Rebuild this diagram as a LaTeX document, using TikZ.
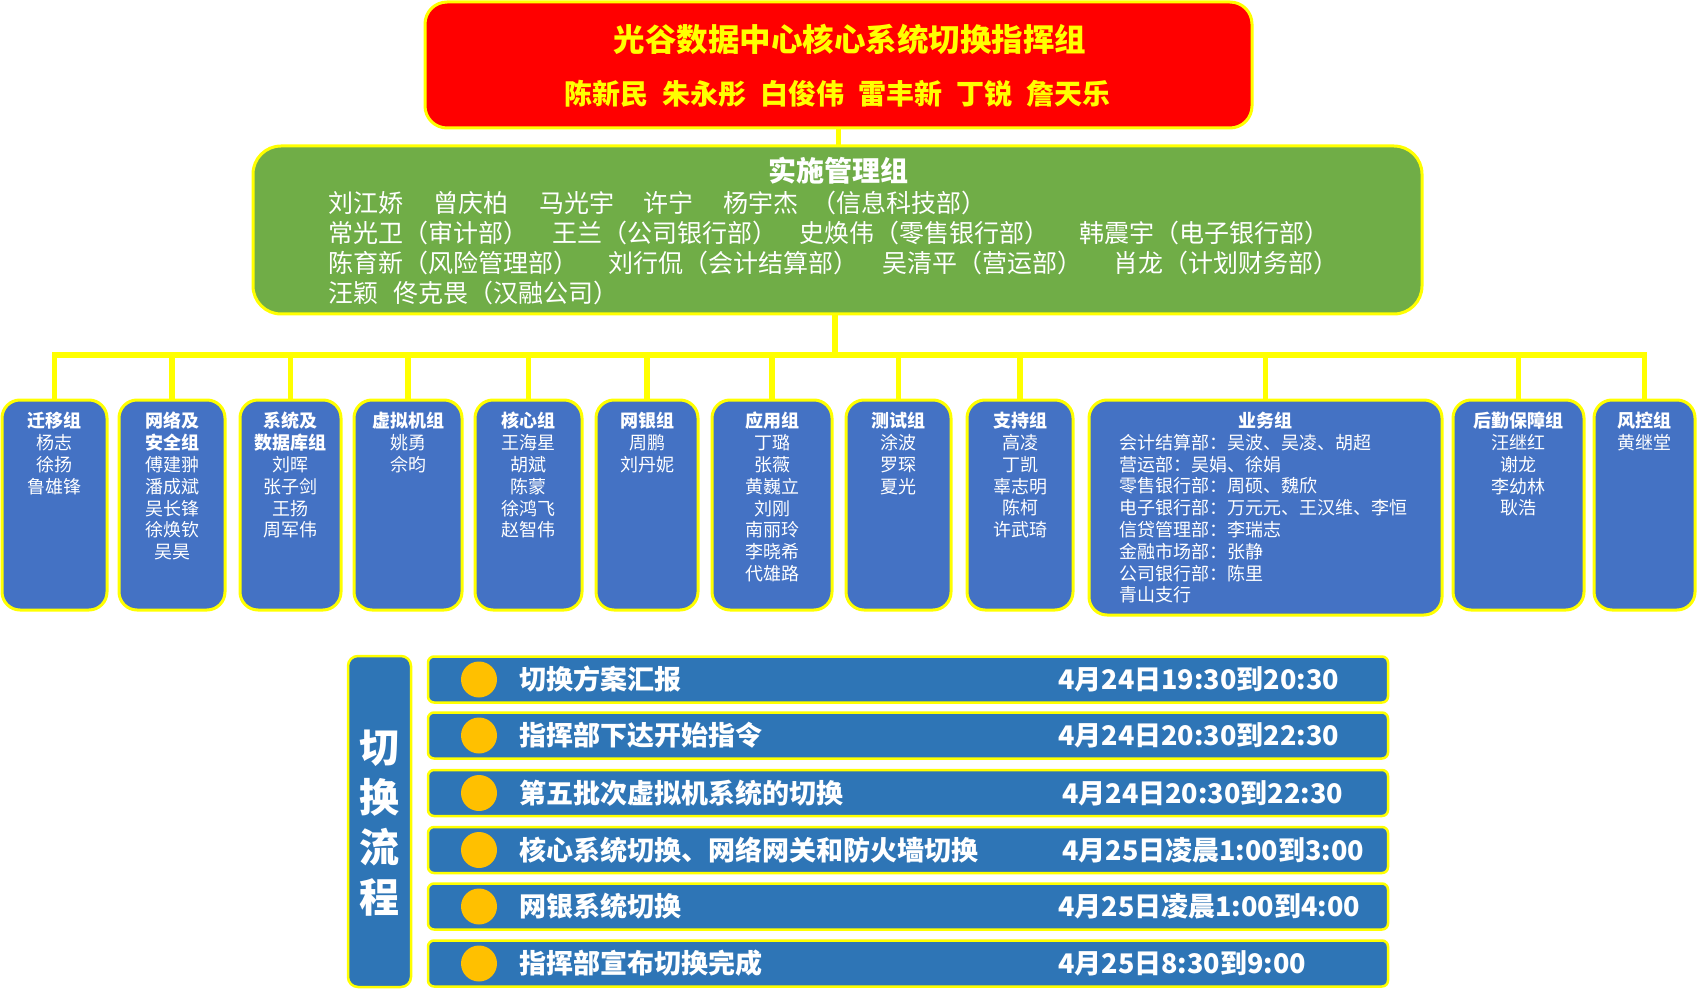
\documentclass[tikz,border=0pt]{standalone}
\usepackage{fontspec}
\setmainfont{Noto Sans CJK SC}
\definecolor{ylw}{HTML}{FFFF00}
\definecolor{redf}{HTML}{FF0000}
\definecolor{greenf}{HTML}{70AD47}
\definecolor{bluef}{HTML}{4472C4}
\definecolor{rowf}{HTML}{2E75B6}
\definecolor{dotc}{HTML}{FFC000}
\newcommand{\myfs}[2]{\fontsize{#1}{#2}\selectfont}
\begin{document}
\begin{tikzpicture}[x=1pt,y=-1pt,
  frame/.style={draw=ylw, inner sep=0pt, outer sep=0pt},
  redbox/.style={frame, line width=3pt, fill=redf, rounded corners=22pt},
  greenbox/.style={frame, line width=3pt, fill=greenf, rounded corners=28pt},
  grpbox/.style={frame, line width=3pt, fill=bluef, rounded corners=18pt},
  rowbox/.style={frame, line width=2.5pt, fill=rowf, rounded corners=6pt},
  sidebox/.style={frame, line width=2.5pt, fill=rowf, rounded corners=10pt},
  link/.style={draw=ylw, line width=5.5pt},
  grptext/.style={text=white, align=center, anchor=north, inner sep=0pt, font=\myfs{18}{21.8}},
  greentext/.style={text=white, anchor=base west, inner sep=0pt, font=\myfs{25}{30}},
  rowtext/.style={text=white, anchor=base west, inner sep=0pt, font=\myfs{27}{32}\bfseries},
  dotmark/.style={circle, fill=dotc, minimum size=36pt, inner sep=0pt},
]
\useasboundingbox (0,0) rectangle (1700,1000);
\fill[white] (0,0) rectangle (1700,1000);

% top command group
\node[redbox, minimum width=827pt, minimum height=126pt] (red) at (838.5,65) {};
\node[anchor=base, inner sep=0pt, text=ylw, font=\myfs{31.5}{36}\bfseries] (redtitle) at (850,52) {光谷数据中心核心系统切换指挥组};
\node[anchor=base, inner sep=0pt, text=ylw, font=\myfs{28}{32}\bfseries] (rednames) at (837,104.6) {陈新民\hspace{0.5em}朱永彤\hspace{0.5em}白俊伟\hspace{0.5em}雷丰新\hspace{0.5em}丁锐\hspace{0.5em}詹天乐};

% implementation management group
\node[greenbox, minimum width=1169pt, minimum height=168pt] (green) at (837.5,230) {};
\node[anchor=base, inner sep=0pt, text=white, font=\myfs{28}{32}\bfseries] (greentitle) at (838,182) {实施管理组};
\node[greentext] (g11) at (328.5,213) {刘江娇};
\node[greentext] (g12) at (433.7,213) {曾庆柏};
\node[greentext] (g13) at (538.8,213) {马光宇};
\node[greentext] (g14) at (643,213) {许宁};
\node[greentext] (g15) at (723,213) {杨宇杰};
\node[greentext] (g16) at (811,213) {（信息科技部）};
\node[greentext] (g21) at (328.5,242.5) {常光卫（审计部）};
\node[greentext] (g22) at (552,242.5) {王兰（公司银行部）};
\node[greentext] (g23) at (799,242.5) {史焕伟（零售银行部）};
\node[greentext] (g24) at (1079,242.5) {韩震宇（电子银行部）};
\node[greentext] (g31) at (328.5,272.5) {陈育新（风险管理部）};
\node[greentext] (g32) at (608,272.5) {刘行侃（会计结算部）};
\node[greentext] (g33) at (882.5,272.5) {吴清平（营运部）};
\node[greentext] (g34) at (1113.5,272.5) {肖龙（计划财务部）};
\node[greentext] (g41) at (328.5,302.5) {汪颖};
\node[greentext] (g42) at (393.6,302.5) {佟克畏（汉融公司）};

% working groups
\node[grpbox, minimum width=105pt, minimum height=210pt] (b1) at (54.5,505) {};
\node[grpbox, minimum width=106pt, minimum height=210pt] (b2) at (172,505) {};
\node[grpbox, minimum width=101pt, minimum height=210pt] (b3) at (290.5,505) {};
\node[grpbox, minimum width=108pt, minimum height=210pt] (b4) at (408,505) {};
\node[grpbox, minimum width=107pt, minimum height=210pt] (b5) at (528.5,505) {};
\node[grpbox, minimum width=102pt, minimum height=210pt] (b6) at (647,505) {};
\node[grpbox, minimum width=120pt, minimum height=210pt] (b7) at (772,505) {};
\node[grpbox, minimum width=105pt, minimum height=210pt] (b8) at (898.5,505) {};
\node[grpbox, minimum width=106pt, minimum height=210pt] (b9) at (1020,505) {};
\node[grpbox, minimum width=353pt, minimum height=215pt] (b10) at (1265.5,507.5) {};
\node[grpbox, minimum width=131pt, minimum height=210pt] (b11) at (1518.5,505) {};
\node[grpbox, minimum width=101pt, minimum height=210pt] (b12) at (1644.5,505) {};

\node[grptext] (t1) at (54.5,412) {\textbf{迁移组}\\杨志\\徐扬\\鲁雄锋};
\node[grptext] (t2) at (172,412) {\textbf{网络及}\\\textbf{安全组}\\傅建翀\\潘成斌\\吴长锋\\徐焕钦\\吴昊};
\node[grptext] (t3) at (290.5,412) {\textbf{系统及}\\\textbf{数据库组}\\刘晖\\张子剑\\王扬\\周军伟};
\node[grptext] (t4) at (408,412) {\textbf{虚拟机组}\\姚勇\\佘昀};
\node[grptext] (t5) at (528.5,412) {\textbf{核心组}\\王海星\\胡斌\\陈蒙\\徐鸿飞\\赵智伟};
\node[grptext] (t6) at (647,412) {\textbf{网银组}\\周鹏\\刘丹妮};
\node[grptext] (t7) at (772,412) {\textbf{应用组}\\丁璐\\张薇\\黄巍立\\刘刚\\南丽玲\\李晓希\\代雄路};
\node[grptext] (t8) at (898.5,412) {\textbf{测试组}\\涂波\\罗琛\\夏光};
\node[grptext] (t9) at (1020,412) {\textbf{支持组}\\高凌\\丁凯\\辜志明\\陈柯\\许武琦};
\node[grptext] (t10) at (1265.5,412) {\textbf{业务组}};
\node[grptext, anchor=north west, align=left] (t10b) at (1119,433.8) {会计结算部：吴波、吴凌、胡超\\营运部：吴娟、徐娟\\零售银行部：周硕、魏欣\\电子银行部：万元元、王汉维、李恒\\信贷管理部：李瑞志\\金融市场部：张静\\公司银行部：陈里\\青山支行};
\node[grptext] (t11) at (1518.5,412) {\textbf{后勤保障组}\\汪继红\\谢龙\\李幼林\\耿浩};
\node[grptext] (t12) at (1644.5,412) {\textbf{风控组}\\黄继堂};

% connectors
\coordinate (hub) at (835,355);
\draw[link] (red.south) -- (red.south |- green.north);
\draw[link] (green.south -| hub) -- (hub);
\draw[link, line cap=rect] (b1.north |- hub) -- (b12.north |- hub);
\foreach \k in {1,...,12}{
  \draw[link] (b\k.north |- hub) -- (b\k.north);
}

% switch-over process
\node[sidebox, minimum width=63pt, minimum height=331pt] (side) at (379.5,821.5) {};
\node[text=white, align=center, inner sep=0pt, font=\myfs{40}{50}\bfseries] (sidetext) at (379.5,823) {切\\换\\流\\程};

\foreach \i/\cy/\dx/\txt/\dt in {
  1/679.5/1058/切换方案汇报/4月24日19:30到20:30,
  2/735.5/1058/指挥部下达开始指令/4月24日20:30到22:30,
  3/793/1062/第五批次虚拟机系统的切换/4月24日20:30到22:30,
  4/850/1062/核心系统切换、网络网关和防火墙切换/4月25日凌晨1:00到3:00,
  5/906.5/1058/网银系统切换/4月25日凌晨1:00到4:00,
  6/963.5/1058/指挥部宣布切换完成/4月25日8:30到9:00}{
  \node[rowbox, minimum width=960pt, minimum height=46pt] (row\i) at (908,\cy) {};
  \node[dotmark] (dot\i) at (479,\cy) {};
  \node[rowtext] (rt\i) at (519,\cy+10.3) {\txt};
  \node[rowtext] (rd\i) at (\dx,\cy+10.3) {\dt};
}
\end{tikzpicture}
\end{document}
